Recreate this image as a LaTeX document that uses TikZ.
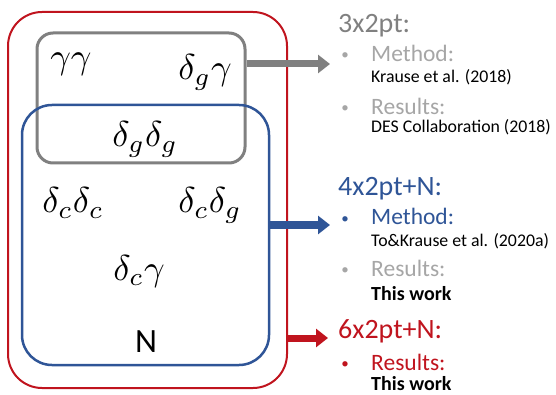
\documentclass[tikz,border=0pt]{standalone}
\usepackage{fontspec}
\setmainfont{Carlito}
\usetikzlibrary{arrows.meta}
\definecolor{myred}{RGB}{192,20,30}
\definecolor{myblue}{RGB}{47,85,151}
\definecolor{mygray}{RGB}{128,128,128}
\definecolor{lgray}{RGB}{166,166,166}
\tikzset{
  box/.style={draw, rounded corners=#1, inner sep=0pt},
  mth/.style={anchor=base, inner sep=0pt, font=\fontsize{10}{12}\selectfont, scale=3.6},
  hdr/.style={anchor=base west, inner sep=0pt, font=\fontsize{28}{30}\selectfont},
  itm/.style={anchor=base west, inner sep=0pt, font=\fontsize{23.5}{26}\selectfont},
  bul/.style={anchor=base, inner sep=0pt, font=\fontsize{15}{18}\selectfont},
  ref/.style={anchor=base west, inner sep=0pt, font=\fontsize{17.8}{20}\selectfont},
  tw/.style={anchor=base west, inner sep=0pt, font=\fontsize{20}{22}\selectfont\bfseries},
  arr/.style={line width=7pt, -{Triangle[length=12pt,width=18pt]}},
}
\begin{document}
\begin{tikzpicture}[x=1pt,y=-1pt]
\useasboundingbox (0,0) rectangle (556,395);
% boxes
\node[box=34pt, draw=myred, line width=2pt, minimum width=279pt, minimum height=376pt] (red) at (147.5,200) {};
\node[box=16pt, draw=mygray, line width=3pt, minimum width=208pt, minimum height=130pt] (gray) at (141,98) {};
\node[box=30pt, draw=myblue, line width=2.5pt, minimum width=247pt, minimum height=260pt] (blue) at (145.5,235) {};
% math labels
\node[mth] (gg) at (71,69) {$\gamma\gamma$};
\node[mth] (dgg) at (205,80) {$\delta_g\gamma$};
\node[mth] (dgdg) at (145,147) {$\delta_g\delta_g$};
\node[mth] (dcdc) at (73,213) {$\delta_c\delta_c$};
\node[mth] (dcdg) at (210,213) {$\delta_c\delta_g$};
\node[mth] (dcg) at (139,280) {$\delta_c\gamma$};
\node[anchor=base, inner sep=0pt, font=\fontsize{34}{36}\selectfont] (N) at (146,352) {N};
% arrows
\coordinate (t1) at (330,64);
\coordinate (t2) at (330,225);
\coordinate (t3) at (328,338);
\draw[arr, mygray] (t1 -| gray.east) -- (t1);
\draw[arr, myblue] (t2 -| blue.east) -- (t2);
\draw[arr, myred] (t3 -| red.east) -- (t3);
% right texts
\node[hdr, text=mygray] (h1) at (338,33) {3x2pt:};
\node[bul, text=lgray] (b1) at (345,60) {•};
\node[itm, text=lgray] (m1) at (371,62) {Method:};
\node[ref] (r1) at (371,83) {Krause et al. (2018)};
\node[bul, text=lgray] (b2) at (345,113) {•};
\node[itm, text=lgray] (s1) at (371,115) {Results:};
\node[ref] (r2) at (371,133) {DES Collaboration (2018)};

\node[hdr, text=myblue] (h2) at (338,196) {4x2pt+N:};
\node[bul, text=myblue] (b3) at (345,223) {•};
\node[itm, text=myblue] (m2) at (371,225) {Method:};
\node[ref] (r3) at (371,246) {To\&Krause et al. (2020a)};
\node[bul, text=lgray] (b4) at (345,274) {•};
\node[itm, text=lgray] (s2) at (371,276) {Results:};
\node[tw] (w1) at (371,300) {This work};

\node[hdr, text=myred] (h3) at (338,338) {6x2pt+N:};
\node[bul, text=myred] (b5) at (345,368) {•};
\node[itm, text=myred] (s3) at (371,370) {Results:};
\node[tw] (w2) at (371,390) {This work};
\end{tikzpicture}
\end{document}
